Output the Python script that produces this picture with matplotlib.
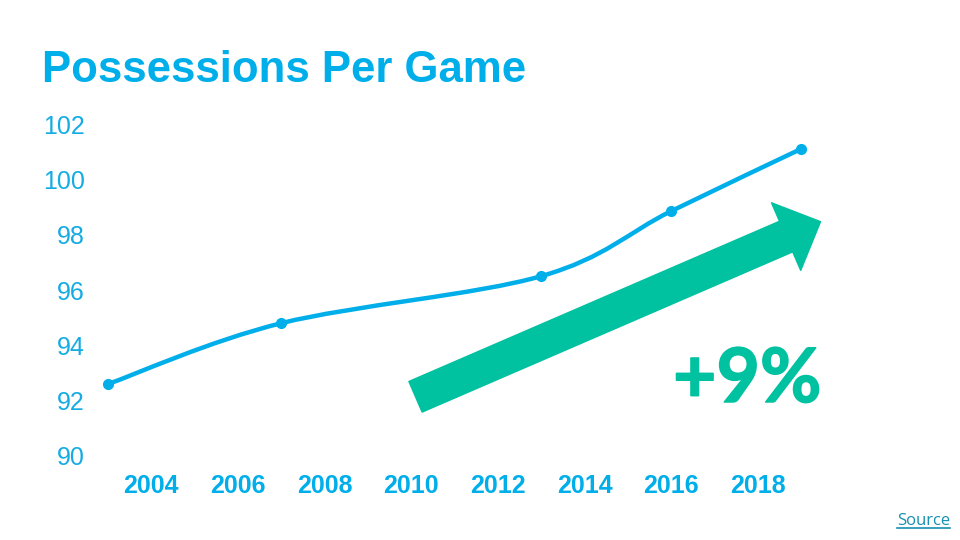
import numpy as np
import matplotlib.pyplot as plt
import matplotlib.patheffects as pe
from matplotlib.path import Path
from matplotlib.patches import PathPatch
from matplotlib.lines import Line2D

plt.rcParams['font.family'] = ['Liberation Sans', 'DejaVu Sans']

# data
years = [2003, 2007, 2013, 2016, 2019]
possessions = [92.6, 94.8, 96.5, 98.85, 101.1]
xticks = [2004, 2006, 2008, 2010, 2012, 2014, 2016, 2018]
yticks = [90, 92, 94, 96, 98, 100, 102]

blue = '#00AEEA'
green = '#00C1A0'

fig = plt.figure(figsize=(9.6, 5.4), dpi=100)
ax = fig.add_axes([86.3 / 960, 0.130, (822.7 - 86.3) / 960, 0.7959 - 0.130])
ax.set_xlim(2002.5, 2019.5)
ax.set_ylim(89.5, 102.5)

# smoothed line (catmull-rom style bezier, like a spreadsheet smooth line)
pts = np.column_stack([years, possessions]).astype(float)
verts = [pts[0]]
codes = [Path.MOVETO]
for i in range(len(pts) - 1):
    p0 = pts[i - 1] if i > 0 else pts[i]
    p1 = pts[i]
    p2 = pts[i + 1]
    p3 = pts[i + 2] if i + 2 < len(pts) else pts[i + 1]
    c1 = p1 + (p2 - p0) / 6
    c2 = p2 - (p3 - p1) / 6
    verts += [c1, c2, p2]
    codes += [Path.CURVE4] * 3
ax.add_patch(PathPatch(Path(verts, codes), fill=False, edgecolor=blue,
                       lw=3.2, capstyle='round', clip_on=False))
ax.plot(years, possessions, 'o', color=blue, ms=7, clip_on=False)

# big arrow
ax.annotate('', xy=(2019.45, 98.47), xytext=(2010.1, 92.14),
            annotation_clip=False,
            arrowprops=dict(arrowstyle='simple,head_length=1.35,head_width=2.65,tail_width=1.2',
                            mutation_scale=20, color=green, shrinkA=0, shrinkB=0))

ax.set_xticks(xticks)
ax.set_xticklabels([str(y) for y in xticks], fontsize=18, fontweight='bold', color=blue)
ax.set_yticks(yticks)
ax.set_yticklabels([str(v) for v in yticks], fontsize=18, color='#14ACE3')
ax.tick_params(axis='both', length=0)
ax.tick_params(axis='x', pad=3)
ax.tick_params(axis='y', pad=1)
for s in ax.spines.values():
    s.set_visible(False)

fig.text(42 / 960, 0.848, 'Possessions Per Game', fontsize=31.5, fontweight='bold',
         color=blue, va='baseline', ha='left')
fig.text(673 / 960, 0.2556, '+9%', fontsize=54, fontweight='bold', color=green,
         family=['Lato', 'DejaVu Sans'], va='baseline', ha='left',
         path_effects=[pe.withStroke(linewidth=1.1, foreground=green)])

src = fig.text(897 / 960, 0.028, 'Source', fontsize=12, color='#1590B0',
               family=['Open Sans', 'DejaVu Sans'], va='baseline', ha='left')
fig.canvas.draw()
bb = src.get_window_extent()
uy = (bb.y0 + 1) / 540
fig.add_artist(Line2D([bb.x0 / 960, bb.x1 / 960], [uy, uy], color='#1590B0', lw=1.2))

fig.savefig('out.png', dpi=100)
